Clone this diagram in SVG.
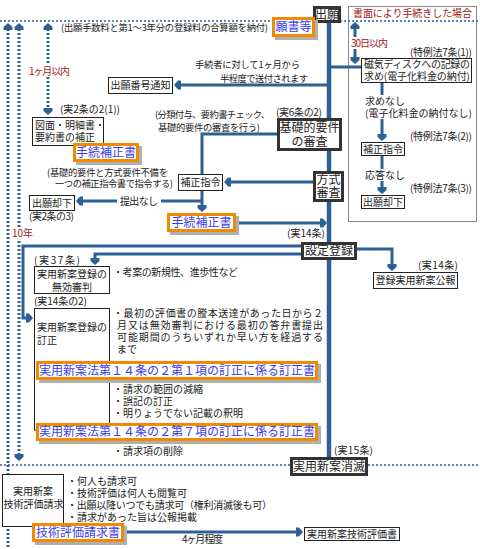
<svg xmlns="http://www.w3.org/2000/svg" width="480" height="549" viewBox="0 0 480 549">
<style>
text{font-family:"Noto Sans CJK JP","Noto Sans",sans-serif;font-size:10px;fill:#222}
.l{font-size:12px}
.s{font-size:9.3px}
.red{fill:#a32020}
.blue{fill:#3a3aee}
.box{fill:#fff;stroke:#222;stroke-width:1}
.tbox{fill:#fff;stroke:#333;stroke-width:3}
.obox{fill:#fff;stroke:#f08a00;stroke-width:3}
.sh{fill:#b0b0b0}
.ln{fill:none;stroke:#2f6095;stroke-width:3}
.main{stroke-width:4.5}
.dot{fill:none;stroke:#2f6095;stroke-width:3;stroke-dasharray:2 2}
.hdot{fill:none;stroke:#2f6095;stroke-width:1.5;stroke-dasharray:2 2}
.wb{fill:#fff}
</style>
<defs>
<marker id="a" viewBox="0 0 10 10" markerWidth="10" markerHeight="10" markerUnits="userSpaceOnUse" refX="5" refY="5" orient="auto-start-reverse">
<path d="M0,0.5 H3 L7,5 L3,9.5 H0 Z" fill="#2f6095"/>
</marker>
</defs>

<g id="paper-area">
<rect x="348.5" y="6.5" width="128" height="215" fill="none" stroke="#888" stroke-width="1"/>
<text x="353" y="16.6" class="red" textLength="119">書面により手続きした場合</text>
</g>

<g id="connectors">
<path class="hdot" d="M0,21 H480"/>
<path class="hdot" d="M0,465 H480"/>
<path class="dot" d="M8,25 V549" marker-start="url(#a)"/>
<path class="dot" d="M19,25 V459" marker-start="url(#a)" marker-end="url(#a)"/>
<path class="dot" d="M48,25 V113" marker-start="url(#a)" marker-end="url(#a)"/>
<path class="ln main" d="M329,23 V457"/>
<path class="ln" d="M329,85 H176" marker-end="url(#a)"/>
<path class="ln" d="M329,67 H361"/>
<path class="ln" stroke-width="2.5" d="M355,24 V62" marker-start="url(#a)" marker-end="url(#a)"/>
<path class="ln" d="M382,82 V139" marker-end="url(#a)"/>
<path class="ln" d="M382,155 V192" marker-end="url(#a)"/>
<path class="ln" d="M277,134 H202 V174"/>
<path class="ln" d="M313,182 H226" marker-end="url(#a)"/>
<path class="ln" d="M202,191 V210" marker-end="url(#a)"/>
<path class="ln" d="M202,201 H78" marker-end="url(#a)"/>
<path class="ln" d="M236,223 H325" marker-end="url(#a)"/>
<path class="ln" d="M301,246 H23 V318 H31" marker-end="url(#a)"/>
<path class="ln" d="M301,254 H95 V263" marker-end="url(#a)"/>
<path class="ln" d="M357,249 H392 V269" marker-end="url(#a)"/>
<path class="ln" d="M124,532 H301" marker-end="url(#a)"/>
</g>

<g id="labels">
<rect class="wb" x="27" y="65" width="44" height="12"/>
<text x="29" y="74.6" class="red" textLength="41">1ヶ月以内</text>
<rect class="wb" x="11" y="227" width="20" height="12"/>
<text x="12" y="236.6" class="red">10年</text>
<rect class="wb" x="350" y="37" width="40" height="12"/>
<text x="351" y="46.6" class="red" textLength="37">30日以内</text>
<rect class="wb" x="117" y="195" width="44" height="12"/>
<text x="120" y="204.6" textLength="38">提出なし</text>
<rect class="wb" x="363" y="95" width="110" height="24"/>
<text x="365" y="104.6">求めなし</text>
<text x="365" y="116.6" textLength="107">(電子化料金の納付なし)</text>
<rect class="wb" x="363" y="169" width="42" height="12"/>
<text x="365" y="178.6">応答なし</text>
<text x="61" y="31.4" class="s" textLength="207">(出願手数料と第1～3年分の登録料の合算額を納付)</text>
<text x="195" y="68.4" class="s" textLength="105">手続者に対して1ヶ月から</text>
<text x="220" y="82.4" class="s" textLength="88">半程度で送付されます</text>
<text x="410" y="55.6" textLength="62">(特例法7条(1))</text>
<text x="410" y="139.6" textLength="62">(特例法7条(2))</text>
<text x="410" y="191.6" textLength="62">(特例法7条(3))</text>
<text x="60" y="112.6" textLength="60">(実2条の2(1))</text>
<text x="155" y="118.4" class="s" textLength="115">(分類付与、要約書チェック、</text>
<text x="158" y="131.4" class="s" textLength="102">基礎的要件の審査を行う)</text>
<text x="276" y="115.6" textLength="46">(実6条の2)</text>
<text x="47" y="176.2" class="s" textLength="121">(基礎的要件と方式要件不備を</text>
<text x="55" y="186.6" class="s" textLength="118">一つの補正指令書で指令する)</text>
<text x="29" y="219.6" textLength="45">(実2条の3)</text>
<text x="287" y="236.6" textLength="38">(実14条)</text>
<text x="418" y="268.6" textLength="40">(実14条)</text>
<text x="34" y="263.6" textLength="46">(実37条)</text>
<text x="113" y="275.6" textLength="125">・考案の新規性、進歩性など</text>
<text x="34" y="304.6" textLength="53">(実14条の2)</text>
<text x="113" y="316.6" textLength="210">・最初の評価書の謄本送達があった日から２</text>
<text x="117" y="328.6" textLength="206">月又は無効審判における最初の答弁書提出</text>
<text x="117" y="340.6" textLength="206">可能期間のうちいずれか早い方を経過する</text>
<text x="117" y="352.6">まで</text>
<text x="113" y="392.6">・請求の範囲の減縮</text>
<text x="113" y="404.6">・誤記の訂正</text>
<text x="113" y="416.6">・明りょうでない記載の釈明</text>
<text x="113" y="454.6">・請求項の削除</text>
<text x="334" y="453.6" textLength="39">(実15条)</text>
<text x="67" y="484.6">・何人も請求可</text>
<text x="67" y="496.6">・技術評価は何人も閲覧可</text>
<text x="67" y="508.6" textLength="205">・出願以降いつでも請求可（権利消滅後も可）</text>
<text x="67" y="520.6">・請求があった旨は公報掲載</text>
<text x="182" y="542.6" textLength="41">4ヶ月程度</text>
</g>

<g id="n-shutsugan">
<rect class="tbox" x="314.5" y="7.5" width="25" height="14"/>
<text x="327" y="19.3" class="l" text-anchor="middle">出願</text>
</g>
<g id="n-gansho">
<rect class="sh" x="275" y="20" width="43" height="20"/>
<rect class="obox" x="273.5" y="18.5" width="40" height="17"/>
<text x="293.5" y="31.3" class="l blue" text-anchor="middle">願書等</text>
</g>
<g id="n-bangou">
<rect class="box" x="108.5" y="77.5" width="64" height="16"/>
<text x="140.5" y="89.1" text-anchor="middle">出願番号通知</text>
</g>
<g id="n-jiki">
<rect class="box" x="361.5" y="58.5" width="110" height="24"/>
<text x="364" y="67.6" textLength="106">磁気ディスクへの記録の</text>
<text x="364" y="79.6" textLength="106">求め(電子化料金の納付)</text>
</g>
<g id="n-hosei2">
<rect class="box" x="361.5" y="142.5" width="43" height="13"/>
<text x="383" y="152.6" text-anchor="middle">補正指令</text>
</g>
<g id="n-kyakka2">
<rect class="box" x="361.5" y="195.5" width="43" height="13"/>
<text x="383" y="205.6" text-anchor="middle">出願却下</text>
</g>
<g id="n-zumen">
<rect class="box" x="32.5" y="117.5" width="71" height="28"/>
<text x="35" y="128.6">図面・明細書・</text>
<text x="35" y="141">要約書の補正</text>
</g>
<g id="n-tetsuzuki1">
<rect class="sh" x="76" y="146" width="66" height="19"/>
<rect class="obox" x="74.5" y="144.5" width="63" height="16"/>
<text x="106" y="156.8" class="l blue" text-anchor="middle">手続補正書</text>
</g>
<g id="n-kiso">
<rect class="tbox" x="278.5" y="119.5" width="62" height="30"/>
<text x="309.5" y="131.5" class="l" text-anchor="middle">基礎的要件</text>
<text x="309.5" y="146" class="l" text-anchor="middle">の審査</text>
</g>
<g id="n-hosei1">
<rect class="box" x="178.5" y="174.5" width="44" height="16"/>
<text x="200.5" y="186.1" text-anchor="middle">補正指令</text>
</g>
<g id="n-houshiki">
<rect class="tbox" x="314.5" y="172.5" width="28" height="28"/>
<text x="328.5" y="184.3" class="l" font-size="11.5" text-anchor="middle">方式</text>
<text x="328.5" y="197" class="l" font-size="11.5" text-anchor="middle">審査</text>
</g>
<g id="n-kyakka1">
<rect class="box" x="29.5" y="195.5" width="45" height="15"/>
<text x="52" y="206.6" text-anchor="middle">出願却下</text>
</g>
<g id="n-tetsuzuki2">
<rect class="sh" x="170" y="216" width="69" height="19"/>
<rect class="obox" x="168.5" y="214.5" width="66" height="16"/>
<text x="201.5" y="226.8" class="l blue" text-anchor="middle">手続補正書</text>
</g>
<g id="n-settei">
<rect class="tbox" x="302.5" y="243.5" width="53" height="15"/>
<text x="329" y="255.3" class="l" text-anchor="middle">設定登録</text>
</g>
<g id="n-kouhou">
<rect class="box" x="373.5" y="272.5" width="84" height="16"/>
<text x="415.5" y="284.1" text-anchor="middle">登録実用新案公報</text>
</g>
<g id="n-mukou">
<rect class="box" x="34.5" y="266.5" width="75" height="27"/>
<text x="72" y="278.4" text-anchor="middle">実用新案登録の</text>
<text x="72" y="290.8" text-anchor="middle">無効審判</text>
</g>
<g id="n-teisei">
<rect class="box" x="34.5" y="308.5" width="75" height="121.5"/>
<text x="37" y="331.4">実用新案登録の</text>
<text x="37" y="343.8">訂正</text>
</g>
<g id="n-teiseisho1">
<rect class="sh" x="39" y="364" width="282" height="19"/>
<rect class="obox" x="37.5" y="362.5" width="279" height="16"/>
<text x="39" y="374.8" class="l blue" textLength="276">実用新案法第１４条の２第１項の訂正に係る訂正書</text>
</g>
<g id="n-teiseisho7">
<rect class="sh" x="39" y="426" width="282" height="18"/>
<rect class="obox" x="37.5" y="424.5" width="279" height="15"/>
<text x="39" y="436.3" class="l blue" textLength="276">実用新案法第１４条の２第７項の訂正に係る訂正書</text>
</g>
<g id="n-shoumetsu">
<rect class="tbox" x="291.5" y="458.5" width="75" height="16"/>
<text x="329" y="470.8" class="l" text-anchor="middle">実用新案消滅</text>
</g>
<g id="n-gijutsu">
<rect class="box" x="2.5" y="474.5" width="61" height="52"/>
<text x="33" y="495.4" text-anchor="middle">実用新案</text>
<text x="33.5" y="507.8" text-anchor="middle">技術評価請求</text>
</g>
<g id="n-seikyuusho">
<rect class="sh" x="35" y="526" width="92" height="19"/>
<rect class="obox" x="33.5" y="524.5" width="89" height="16"/>
<text x="78" y="536.8" class="l blue" text-anchor="middle">技術評価請求書</text>
</g>
<g id="n-hyoukasho">
<rect class="box" x="304.5" y="527.5" width="95" height="13"/>
<text x="352" y="537.6" text-anchor="middle">実用新案技術評価書</text>
</g>
</svg>
